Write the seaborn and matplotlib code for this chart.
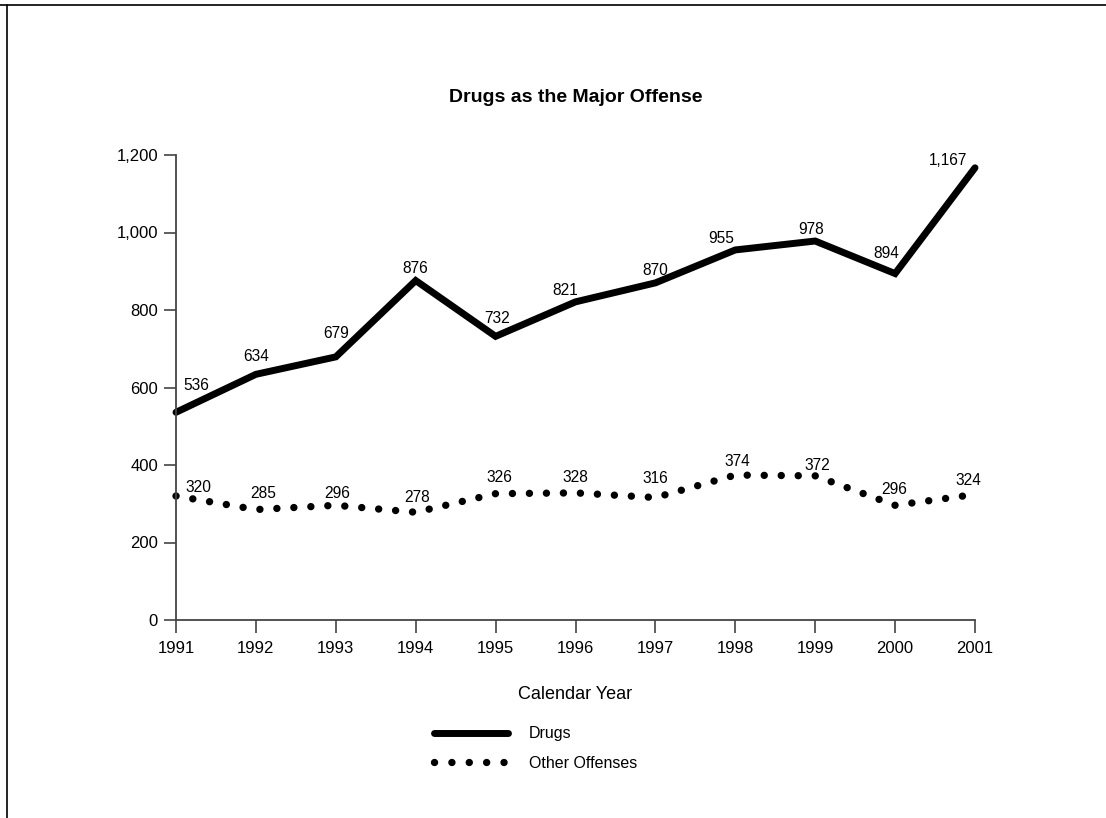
import matplotlib
matplotlib.use("Agg")
import matplotlib.pyplot as plt
import seaborn as sns
import pandas as pd
from matplotlib.lines import Line2D

years = [1991, 1992, 1993, 1994, 1995, 1996, 1997, 1998, 1999, 2000, 2001]
drugs = [536, 634, 679, 876, 732, 821, 870, 955, 978, 894, 1167]
other = [320, 285, 296, 278, 326, 328, 316, 374, 372, 296, 324]
yticks = [0, 200, 400, 600, 800, 1000, 1200]
ytick_labels = ["0", "200", "400", "600", "800", "1,000", "1,200"]

# label placement offsets in pixels (dx, dy) from each point to label centre
drugs_label_offsets = [(20, 27), (0, 18), (0, 23), (0, 12), (2, 18), (-10, 11),
                       (0, 12), (-14, 11), (-4, 12), (-9, 20), (-27, 7)]
other_label_offsets = [(22, 8), (7, 16), (1, 12), (1, 15), (4, 16), (0, 15),
                       (0, 19), (2, 14), (2, 10), (-1, 16), (-7, 14)]

sns.set_theme(style="white")
plt.rcParams['font.family'] = ['Liberation Sans', 'DejaVu Sans']
plt.rcParams['text.color'] = 'black'
plt.rcParams['axes.labelcolor'] = 'black'
plt.rcParams['xtick.color'] = 'black'
plt.rcParams['ytick.color'] = 'black'

W, H = 1106, 818
fig = plt.figure(figsize=(W / 100, H / 100), dpi=100)
ax = fig.add_axes([176 / W, 1 - 620 / H, (975 - 176) / W, (620 - 155) / H])

df = pd.DataFrame({"year": years, "Drugs": drugs, "Other Offenses": other})

DOT = (0, (0.01, 2.3))
sns.lineplot(data=df, x="year", y="Drugs", ax=ax, color="black", linewidth=5,
             solid_capstyle="round", solid_joinstyle="miter", label="Drugs")
sns.lineplot(data=df, x="year", y="Other Offenses", ax=ax, color="black",
             linewidth=5.3, linestyle=DOT, dash_capstyle="round",
             label="Other Offenses")

ax.set_xlim(1991, 2001)
ax.set_ylim(0, 1200)
ax.set_xticks(years)
ax.set_xticklabels([str(y) for y in years])
ax.set_yticks(yticks)
ax.set_yticklabels(ytick_labels)
for s in ["top", "right"]:
    ax.spines[s].set_visible(False)
for s in ["left", "bottom"]:
    ax.spines[s].set_color("#444444")
    ax.spines[s].set_linewidth(1.3)
ax.tick_params(axis="both", which="major", direction="out", length=9,
               width=1.2, color="#444444", labelsize=12, labelcolor="black",
               left=True, bottom=True)
ax.tick_params(axis="x", pad=6)
ax.tick_params(axis="y", pad=4)
for l in ax.get_lines():
    l.set_clip_on(False)

ax.set_xlabel("Calendar Year", fontsize=13, labelpad=22, color="black")
ax.set_ylabel("")
ax.set_title("Drugs as the Major Offense", fontsize=14, fontweight="bold",
             pad=38, color="black")

# annotations
for series, offs in ((drugs, drugs_label_offsets), (other, other_label_offsets)):
    for x, v, (dx, dy) in zip(years, series, offs):
        ax.annotate(f"{v:,}", (x, v), xytext=(dx, dy),
                    textcoords="offset pixels", ha="center", va="center",
                    fontsize=11.2, color="black")

handles = [Line2D([], [], color="black", linewidth=5, solid_capstyle="round"),
           Line2D([], [], color="black", linewidth=5.3,
                  linestyle=(0, (0.01, 2.35)), dash_capstyle="round")]
ax.legend(handles, ["Drugs", "Other Offenses"], loc="upper left",
          bbox_to_anchor=(420 / W, 1 - 712 / H), bbox_transform=fig.transFigure,
          frameon=False, fontsize=11.5, handlelength=4.6, handletextpad=1.3,
          labelspacing=0.9, labelcolor="black")

# frame lines
fig.add_artist(Line2D([0, 1], [1 - 5 / H, 1 - 5 / H], transform=fig.transFigure,
                      color="black", linewidth=1.2))
fig.add_artist(Line2D([7 / W, 7 / W], [0, 1 - 5 / H], transform=fig.transFigure,
                      color="black", linewidth=1.2))

fig.savefig("out.png", dpi=100, facecolor="white")
